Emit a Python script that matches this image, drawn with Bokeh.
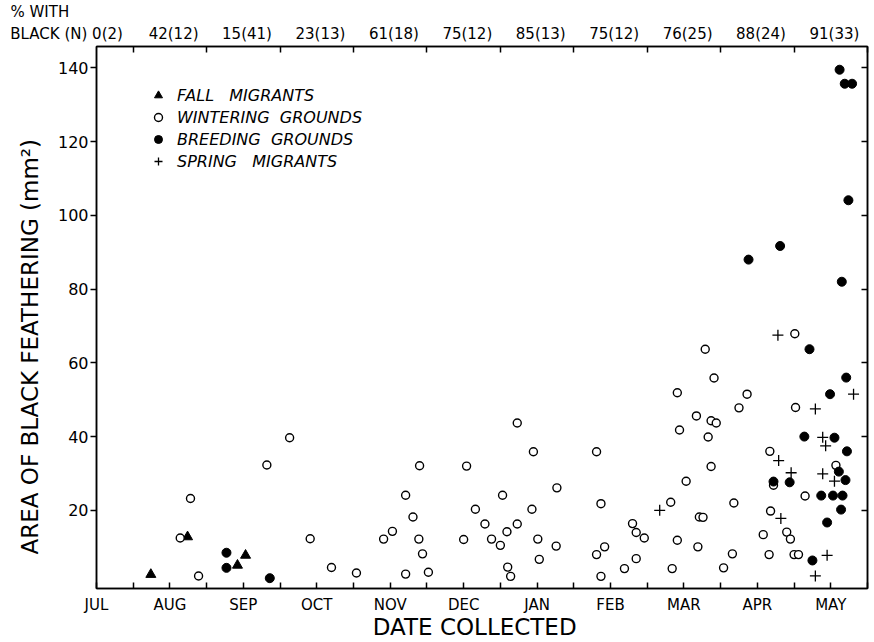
from bokeh.plotting import figure
from bokeh.models import Range1d, LinearAxis, FixedTicker, Legend, LegendItem, Title
from bokeh.embed import file_html
from bokeh.resources import INLINE

FONT = "DejaVu Sans"

# x = months since 1 July (1 = 1 Aug, ... 10 = 1 May, 11 = 1 Jun)
months = ["JUL", "AUG", "SEP", "OCT", "NOV", "DEC", "JAN", "FEB", "MAR", "APR", "MAY"]
pct_black_n = ["0(2)", "42(12)", "15(41)", "23(13)", "61(18)", "75(12)",
               "85(13)", "75(12)", "76(25)", "88(24)", "91(33)"]
header_1 = "% WITH"
header_2 = "BLACK (N)"
y_ticks = [20, 40, 60, 80, 100, 120, 140]

fall_x = [1.24, 1.74, 2.42, 2.53]
fall_y = [2.6, 12.8, 5.1, 7.8]

winter_x = [1.64, 1.78, 1.89, 2.82, 3.13, 3.41, 3.70, 4.04, 4.41, 4.53, 4.71, 4.71,
            4.81, 4.90, 4.89, 4.94, 5.02, 5.50, 5.54, 5.66, 5.79, 5.88, 6.00, 6.09,
            6.03, 6.23, 6.10, 6.14, 6.23, 6.45, 6.43, 6.51, 6.53, 6.77, 6.76, 7.31,
            7.37, 7.31, 7.42, 7.37, 7.69, 7.80, 7.85, 7.96, 7.85, 8.32, 8.41, 8.44,
            8.53, 8.41, 8.34, 8.67, 8.79, 8.91, 8.87, 8.94, 8.83, 8.87, 8.71, 8.76,
            8.69, 9.04, 9.16, 9.18, 9.36, 9.25, 9.58, 9.67, 9.68, 9.66, 9.72, 10.01,
            10.02, 9.90, 9.95, 10.00, 10.06, 10.15, 10.57]
winter_y = [12.5, 23.2, 2.2, 32.3, 39.7, 12.3, 4.5, 3.0, 12.2, 14.3, 2.7, 24.1,
            18.2, 32.1, 12.2, 8.2, 3.2, 12.1, 32.0, 20.3, 16.3, 12.2, 10.5, 14.2,
            24.1, 16.3, 4.6, 2.1, 43.7, 35.9, 20.3, 12.2, 6.7, 26.1, 10.3, 35.9,
            21.8, 8.0, 10.1, 2.1, 4.2, 16.4, 14.0, 12.5, 6.9, 22.2, 51.9, 41.8,
            27.9, 11.9, 4.2, 45.6, 63.7, 55.9, 44.3, 43.7, 39.9, 31.9, 18.2, 18.1,
            10.1, 4.4, 8.2, 22.0, 51.5, 47.8, 13.4, 36.0, 19.8, 8.0, 26.8, 67.9,
            47.9, 14.1, 12.2, 8.0, 8.0, 23.9, 32.2]

breed_x = [2.27, 2.27, 2.86, 9.38, 9.81, 9.72, 9.94, 10.21, 10.14, 10.49, 10.55,
           10.71, 10.72, 10.61, 10.70, 10.37, 10.53, 10.66, 10.64, 10.45, 10.25,
           10.62, 10.69, 10.79, 10.74, 10.65]
breed_y = [8.5, 4.4, 1.6, 88.0, 91.7, 27.8, 27.6, 63.7, 40.0, 51.5, 39.7,
           56.0, 36.0, 30.5, 28.2, 24.0, 24.0, 24.0, 20.2, 16.7, 6.4,
           139.5, 135.7, 135.7, 104.1, 82.0]

spring_x = [8.17, 9.78, 9.79, 9.96, 9.82, 10.29, 10.39, 10.43, 10.39, 10.55, 10.81,
            10.45, 10.29]
spring_y = [20.0, 67.5, 33.5, 30.2, 17.8, 47.5, 39.8, 37.5, 29.9, 27.9, 51.5,
            7.8, 2.2]

X_START, X_END = 0.5, 11.0

p = figure(width=874, height=642, output_backend="svg", toolbar_location=None,
           x_range=Range1d(X_START, X_END), y_range=Range1d(-1.2, 145.8),
           x_axis_location=None, y_axis_location=None,
           min_border_left=96, min_border_right=7, min_border_top=45, min_border_bottom=54)
p.grid.visible = False
p.outline_line_color = "black"
p.outline_line_width = 1.5
p.background_fill_color = "white"
p.border_fill_color = "white"

# first header line as a left-aligned title shifted into the left margin
p.title = Title(text=header_1, align="left", offset=-86, standoff=1,
                text_font=FONT, text_font_size="15px", text_font_style="normal",
                text_color="black")

def style_axis(ax):
    ax.axis_line_color = "black"
    ax.axis_line_width = 1.5
    ax.major_tick_line_color = "black"
    ax.major_tick_line_width = 1.5
    ax.minor_tick_line_color = "black"
    ax.minor_tick_line_width = 1.5
    ax.major_label_text_font = FONT
    ax.major_label_text_color = "black"
    ax.axis_label_text_font = FONT
    ax.axis_label_text_font_style = "normal"
    ax.axis_label_text_color = "black"

# bottom axis: month names at mid-month, ticks every half month
bottom = LinearAxis(ticker=FixedTicker(ticks=[i + 0.5 for i in range(len(months))],
                                       minor_ticks=[i for i in range(1, len(months) + 1)]),
                    major_label_overrides={i + 0.5: m for i, m in enumerate(months)},
                    axis_label="DATE   COLLECTED")
style_axis(bottom)
bottom.major_tick_in = 6
bottom.major_tick_out = 0
bottom.minor_tick_in = 6
bottom.minor_tick_out = 0
bottom.major_label_text_font_size = "15px"
bottom.major_label_standoff = 7
bottom.axis_label_text_font_size = "23px"
bottom.axis_label_standoff = -3
p.add_layout(bottom, "below")

# top axis: % with black (N) per month, ticks at month boundaries;
# the second header line hangs left of the frame's corner
top_pos = [max(i + 0.55, 0.65) for i in range(len(pct_black_n))]
top_labels = {t: s for t, s in zip(top_pos, pct_black_n)}
top_labels[X_START] = header_2 + "\u00a0" * 20
top = LinearAxis(ticker=FixedTicker(ticks=[X_START] + top_pos,
                                    minor_ticks=[i for i in range(1, len(months) + 1)]),
                 major_label_overrides=top_labels)
style_axis(top)
top.major_tick_in = 0
top.major_tick_out = 0
top.minor_tick_in = 6
top.minor_tick_out = 0
top.major_label_text_font_size = "15px"
top.major_label_standoff = 4
p.add_layout(top, "above")

left = LinearAxis(ticker=FixedTicker(ticks=y_ticks, minor_ticks=[]),
                  axis_label="AREA   OF   BLACK   FEATHERING   (mm²)")
style_axis(left)
left.major_tick_in = 0
left.major_tick_out = 6
left.major_label_text_font_size = "16px"
left.major_label_standoff = 2
left.axis_label_text_font_size = "23px"
left.axis_label_standoff = 12
p.add_layout(left, "left")

right = LinearAxis(ticker=FixedTicker(ticks=y_ticks, minor_ticks=[]),
                   major_label_overrides={t: "" for t in y_ticks})
style_axis(right)
right.major_tick_in = 6
right.major_tick_out = 0
right.major_label_standoff = 0
p.add_layout(right, "right")

r_fall = p.scatter(fall_x, fall_y, marker="triangle", size=10, fill_color="black",
                   line_color="black")
r_winter = p.scatter(winter_x, winter_y, marker="circle", size=8, fill_color="white",
                     line_color="black", line_width=1.4)
r_breed = p.scatter(breed_x, breed_y, marker="circle", size=9, fill_color="black",
                    line_color="black")
r_spring = p.scatter(spring_x, spring_y, marker="cross", size=11, line_color="black",
                     line_width=1.3)

legend = Legend(items=[LegendItem(label="FALL   MIGRANTS", renderers=[r_fall]),
                       LegendItem(label="WINTERING  GROUNDS", renderers=[r_winter]),
                       LegendItem(label="BREEDING  GROUNDS", renderers=[r_breed]),
                       LegendItem(label="SPRING   MIGRANTS", renderers=[r_spring])],
                location=(52, 417), border_line_color=None, background_fill_alpha=0,
                label_text_font=FONT, label_text_font_style="italic",
                label_text_font_size="16px", label_text_color="black",
                glyph_width=20, glyph_height=20, label_height=20, label_standoff=9,
                spacing=2, padding=4, margin=0)
p.add_layout(legend, "center")

open("out.html", "w").write(file_html(p, INLINE))
